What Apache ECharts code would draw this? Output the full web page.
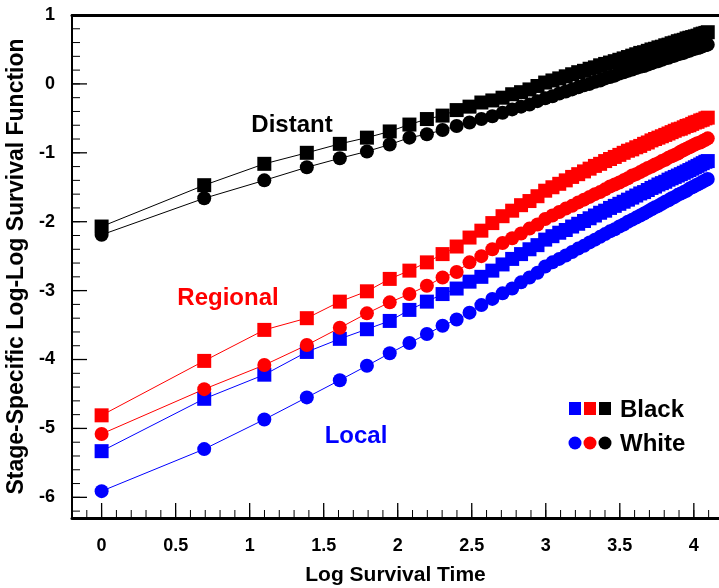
<!DOCTYPE html>
<html>
<head>
<meta charset="utf-8">
<script src="https://cdn.jsdelivr.net/npm/echarts@6/dist/echarts.min.js"></script>
<style>
html, body { margin: 0; padding: 0; background: #fff; }
#chart { width: 719px; height: 588px; }
</style>
</head>
<body>
<div id="chart"></div>
<script>
// log of survival time (t = 1..60)
const logTime = [
    0, 0.693, 1.099, 1.386, 1.609, 1.792, 1.946, 2.079, 2.197, 2.303,
    2.398, 2.485, 2.565, 2.639, 2.708, 2.773, 2.833, 2.890, 2.944, 2.996,
    3.045, 3.091, 3.135, 3.178, 3.219, 3.258, 3.296, 3.332, 3.367, 3.401,
    3.434, 3.466, 3.497, 3.526, 3.555, 3.584, 3.611, 3.638, 3.664, 3.689,
    3.714, 3.738, 3.761, 3.784, 3.807, 3.829, 3.850, 3.871, 3.892, 3.912,
    3.932, 3.951, 3.970, 3.989, 4.007, 4.025, 4.043, 4.060, 4.078, 4.094
];

// Local stage
const localBlack = [
    -5.33, -4.57, -4.22, -3.89, -3.70, -3.56, -3.44, -3.28, -3.16, -3.05,
    -2.97, -2.87, -2.80, -2.71, -2.62, -2.54, -2.47, -2.40, -2.34, -2.26,
    -2.21, -2.16, -2.12, -2.07, -2.03, -1.99, -1.95, -1.91, -1.87, -1.84,
    -1.80, -1.77, -1.74, -1.71, -1.68, -1.65, -1.62, -1.59, -1.57, -1.54,
    -1.51, -1.49, -1.46, -1.44, -1.42, -1.39, -1.37, -1.35, -1.33, -1.31,
    -1.29, -1.27, -1.25, -1.23, -1.21, -1.19, -1.17, -1.15, -1.13, -1.12
];
const localWhite = [
    -5.91, -5.30, -4.87, -4.55, -4.30, -4.09, -3.91, -3.76, -3.63, -3.51,
    -3.42, -3.32, -3.21, -3.12, -3.04, -2.97, -2.88, -2.81, -2.74, -2.65,
    -2.59, -2.54, -2.49, -2.44, -2.39, -2.35, -2.30, -2.26, -2.22, -2.18,
    -2.14, -2.11, -2.07, -2.04, -2.00, -1.97, -1.94, -1.91, -1.88, -1.85,
    -1.82, -1.79, -1.77, -1.74, -1.71, -1.69, -1.66, -1.64, -1.61, -1.59,
    -1.57, -1.55, -1.52, -1.50, -1.48, -1.46, -1.44, -1.42, -1.40, -1.38
];

// Regional stage
const regionalBlack = [
    -4.81, -4.02, -3.57, -3.40, -3.16, -3.01, -2.83, -2.71, -2.59, -2.47,
    -2.36, -2.23, -2.13, -2.02, -1.92, -1.84, -1.76, -1.70, -1.63, -1.55,
    -1.50, -1.45, -1.40, -1.35, -1.31, -1.27, -1.23, -1.19, -1.16, -1.12,
    -1.09, -1.06, -1.03, -1.00, -0.97, -0.95, -0.92, -0.90, -0.87, -0.85,
    -0.82, -0.80, -0.78, -0.76, -0.74, -0.72, -0.70, -0.68, -0.66, -0.65,
    -0.63, -0.61, -0.60, -0.58, -0.56, -0.55, -0.53, -0.52, -0.50, -0.49
];
const regionalWhite = [
    -5.08, -4.43, -4.08, -3.79, -3.54, -3.33, -3.17, -3.05, -2.93, -2.81,
    -2.73, -2.59, -2.50, -2.40, -2.31, -2.24, -2.17, -2.10, -2.04, -1.96,
    -1.91, -1.86, -1.81, -1.77, -1.72, -1.68, -1.64, -1.60, -1.57, -1.53,
    -1.49, -1.46, -1.43, -1.40, -1.37, -1.33, -1.31, -1.28, -1.25, -1.22,
    -1.20, -1.17, -1.15, -1.12, -1.10, -1.07, -1.05, -1.03, -1.01, -0.98,
    -0.96, -0.94, -0.92, -0.90, -0.88, -0.86, -0.85, -0.83, -0.81, -0.79
];

// Distant stage
const distantBlack = [
    -2.07, -1.47, -1.16, -1.00, -0.87, -0.78, -0.69, -0.59, -0.51, -0.46,
    -0.38, -0.33, -0.27, -0.24, -0.20, -0.15, -0.12, -0.08, -0.03, 0.02,
    0.05, 0.08, 0.11, 0.14, 0.17, 0.19, 0.22, 0.24, 0.27, 0.29,
    0.31, 0.33, 0.35, 0.37, 0.39, 0.41, 0.43, 0.45, 0.46, 0.48,
    0.50, 0.51, 0.53, 0.54, 0.56, 0.57, 0.59, 0.60, 0.62, 0.63,
    0.64, 0.66, 0.67, 0.68, 0.69, 0.70, 0.72, 0.73, 0.74, 0.75
];
const distantWhite = [
    -2.19, -1.66, -1.40, -1.21, -1.08, -0.98, -0.88, -0.78, -0.73, -0.67,
    -0.61, -0.56, -0.51, -0.47, -0.42, -0.37, -0.33, -0.30, -0.25, -0.21,
    -0.18, -0.14, -0.11, -0.08, -0.05, -0.02, 0.00, 0.03, 0.05, 0.08,
    0.10, 0.12, 0.15, 0.17, 0.19, 0.21, 0.23, 0.25, 0.26, 0.28,
    0.30, 0.32, 0.33, 0.35, 0.37, 0.38, 0.40, 0.41, 0.43, 0.44,
    0.45, 0.47, 0.48, 0.50, 0.51, 0.52, 0.53, 0.55, 0.56, 0.57
];

const xMajorTicks = [0, 0.5, 1, 1.5, 2, 2.5, 3, 3.5, 4];
const yMajorTicks = [-6, -5, -4, -3, -2, -1, 0, 1];

// minor ticks: 0.1 on x, 0.2 on y
const xMinorTicks = [];
for (let i = -1; i <= 41; i++) xMinorTicks.push(i / 10);
const yMinorTicks = [];
for (let i = -31; i <= 5; i++) yMinorTicks.push(i / 5);

const FONT = '"Liberation Sans", Arial, sans-serif';
const xMin = -0.2, xMax = 4.17, yMin = -6.3, yMax = 1;

function pairs(ys) {
    return logTime.map((x, i) => [x, ys[i]]);
}

function makeSeries(name, ys, color, symbol) {
    return {
        name: name,
        type: 'line',
        data: pairs(ys),
        symbol: symbol,
        symbolSize: 14,
        showSymbol: true,
        color: color,
        itemStyle: { color: color },
        lineStyle: { color: color, width: 1 }
    };
}

const chart = echarts.init(document.getElementById('chart'));

chart.setOption({
    animation: false,
    grid: { left: 72, right: 0, top: 15, bottom: 70, outerBoundsMode: 'none' },
    xAxis: [
        {
            type: 'value', min: xMin, max: xMax, position: 'bottom',
            axisLine: { show: true, onZero: false, lineStyle: { color: '#000', width: 3 } },
            axisTick: { show: false },
            axisLabel: {
                customValues: xMajorTicks, margin: 19, color: '#000',
                fontFamily: FONT, fontWeight: 'bold', fontSize: 18
            },
            splitLine: { show: false },
            name: 'Log Survival Time', nameLocation: 'middle', nameGap: 47,
            nameTextStyle: { color: '#000', fontFamily: FONT, fontWeight: 'bold', fontSize: 21 }
        },
        {
            type: 'value', min: xMin, max: xMax, position: 'top',
            axisLine: { show: true, onZero: false, lineStyle: { color: '#000', width: 3 } },
            axisTick: { show: false },
            axisLabel: { show: false },
            splitLine: { show: false }
        }
    ],
    yAxis: [
        {
            type: 'value', min: yMin, max: yMax, position: 'left',
            axisLine: { show: true, onZero: false, lineStyle: { color: '#000', width: 2 } },
            axisTick: { show: false },
            axisLabel: {
                customValues: yMajorTicks, margin: 17, color: '#000',
                fontFamily: FONT, fontWeight: 'bold', fontSize: 18
            },
            splitLine: { show: false },
            name: 'Stage-Specific Log-Log Survival Function', nameLocation: 'middle', nameGap: 28,
            nameRotate: 90,
            nameTextStyle: { color: '#000', fontFamily: FONT, fontWeight: 'bold', fontSize: 23 }
        }
    ],
    series: [
        makeSeries('Local Black', localBlack, '#0000ff', 'rect'),
        makeSeries('Local White', localWhite, '#0000ff', 'circle'),
        makeSeries('Regional Black', regionalBlack, '#ff0000', 'rect'),
        makeSeries('Regional White', regionalWhite, '#ff0000', 'circle'),
        makeSeries('Distant Black', distantBlack, '#000000', 'rect'),
        makeSeries('Distant White', distantWhite, '#000000', 'circle')
    ]
});

// inward tick marks, placed with the chart's own axis scales
const ticks = [];
function addTick(x, y, dx, dy, width) {
    const p = chart.convertToPixel({ gridIndex: 0 }, [x, y]);
    ticks.push({
        type: 'line',
        silent: true,
        shape: { x1: p[0], y1: p[1], x2: p[0] + dx, y2: p[1] + dy },
        style: { stroke: '#000', lineWidth: width }
    });
}
xMinorTicks.forEach(v => addTick(v, yMin, 0, -8, 1));
xMajorTicks.forEach(v => addTick(v, yMin, 0, -15, 1.3));
yMinorTicks.forEach(v => addTick(xMin, v, 8, 0, 1));
yMajorTicks.forEach(v => addTick(xMin, v, 15, 0, 1.3));

const labels = [
    // stage labels
    { type: 'text', style: { x: 292, y: 125, text: 'Distant', fill: '#000', font: 'bold 24px ' + FONT, textAlign: 'center', textVerticalAlign: 'middle' } },
    { type: 'text', style: { x: 228, y: 298, text: 'Regional', fill: '#ff0000', font: 'bold 24px ' + FONT, textAlign: 'center', textVerticalAlign: 'middle' } },
    { type: 'text', style: { x: 356, y: 436, text: 'Local', fill: '#0000ff', font: 'bold 24px ' + FONT, textAlign: 'center', textVerticalAlign: 'middle' } },
    // race legend
    { type: 'rect', shape: { x: 569, y: 402, width: 12, height: 13 }, style: { fill: '#0000ff' } },
    { type: 'rect', shape: { x: 584, y: 402, width: 12, height: 13 }, style: { fill: '#ff0000' } },
    { type: 'rect', shape: { x: 599, y: 402, width: 12, height: 13 }, style: { fill: '#000' } },
    { type: 'text', style: { x: 620, y: 410, text: 'Black', fill: '#000', font: 'bold 24px ' + FONT, textAlign: 'left', textVerticalAlign: 'middle' } },
    { type: 'circle', shape: { cx: 575, cy: 443, r: 6.5 }, style: { fill: '#0000ff' } },
    { type: 'circle', shape: { cx: 590, cy: 443, r: 6.5 }, style: { fill: '#ff0000' } },
    { type: 'circle', shape: { cx: 605, cy: 443, r: 6.5 }, style: { fill: '#000' } },
    { type: 'text', style: { x: 620, y: 444, text: 'White', fill: '#000', font: 'bold 24px ' + FONT, textAlign: 'left', textVerticalAlign: 'middle' } }
];

chart.setOption({ graphic: ticks.concat(labels) });

window.addEventListener('resize', function() {
    chart.resize();
});
</script>
</body>
</html>
